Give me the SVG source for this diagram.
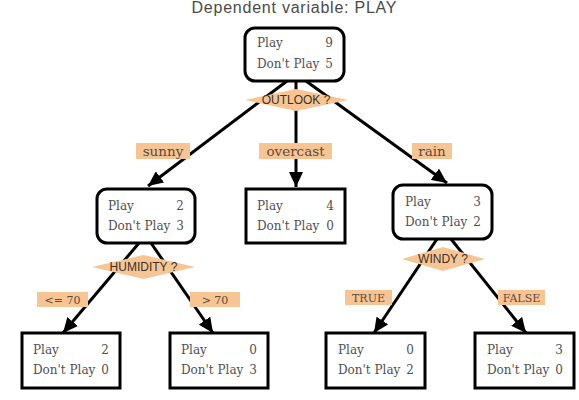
<svg xmlns="http://www.w3.org/2000/svg" width="579" height="400" viewBox="0 0 579 400">
<style>
.box{fill:#fff;stroke:#000;stroke-width:3}
.t{font-family:"DejaVu Serif","Liberation Serif",serif;font-size:12px;fill:#505050}
.n{text-anchor:end}
.lbl{fill:#f7c594}
.lt{font-family:"DejaVu Serif","Liberation Serif",serif;font-size:13.5px;fill:#5b4a3c;text-anchor:middle}
.ls{font-family:"DejaVu Serif","Liberation Serif",serif;font-size:11px;fill:#5b4a3c;text-anchor:middle}
.dia{fill:#f7c594}
.dt{font-family:"Liberation Sans",Arial,sans-serif;font-size:12px;fill:#3a3028;text-anchor:middle}
.edge{stroke:#000;stroke-width:3;fill:none}
.title{font-family:"Liberation Sans",Arial,sans-serif;font-size:16px;fill:#4a4a4a;text-anchor:middle}
</style>
<defs>
<marker id="arr" markerUnits="userSpaceOnUse" markerWidth="16" markerHeight="14" refX="15" refY="7" orient="auto">
<path d="M0,0 L15,7 L0,14 Z" fill="#000"/>
</marker>
</defs>
<rect width="579" height="400" fill="#fff"/>
<text class="title" x="294" y="13" textLength="205" lengthAdjust="spacing">Dependent variable: PLAY</text>

<g id="connectors">
<line class="edge" x1="287" y1="81" x2="148" y2="186" marker-end="url(#arr)"/>
<line class="edge" x1="296" y1="81" x2="296" y2="187" marker-end="url(#arr)"/>
<line class="edge" x1="306" y1="81" x2="447" y2="183" marker-end="url(#arr)"/>
<line class="edge" x1="139" y1="243" x2="63" y2="333" marker-end="url(#arr)"/>
<line class="edge" x1="151" y1="243" x2="213" y2="333" marker-end="url(#arr)"/>
<line class="edge" x1="437" y1="239" x2="374" y2="333" marker-end="url(#arr)"/>
<line class="edge" x1="451" y1="239" x2="526" y2="333" marker-end="url(#arr)"/>
</g>

<g id="lbl-sunny"><rect class="lbl" x="136" y="143" width="54" height="16"/><text class="lt" x="163" y="156">sunny</text></g>
<g id="lbl-overcast"><rect class="lbl" x="259" y="143" width="73" height="16"/><text class="lt" x="295.5" y="156">overcast</text></g>
<g id="lbl-rain"><rect class="lbl" x="412" y="143" width="40" height="16"/><text class="lt" x="432" y="156">rain</text></g>
<g id="lbl-le70"><rect class="lbl" x="37" y="292" width="51" height="15"/><text class="ls" x="62.5" y="304">&lt;= 70</text></g>
<g id="lbl-gt70"><rect class="lbl" x="190" y="292" width="50" height="15"/><text class="ls" x="215" y="304">&gt; 70</text></g>
<g id="lbl-true"><rect class="lbl" x="345" y="290" width="47" height="15"/><text class="ls" x="368.5" y="302">TRUE</text></g>
<g id="lbl-false"><rect class="lbl" x="498" y="290" width="47" height="15"/><text class="ls" x="521.5" y="302">FALSE</text></g>

<g id="outlook"><polygon class="dia" points="245,100 296,89 348,100 296,111"/><text class="dt" x="296" y="104">OUTLOOK ?</text></g>
<g id="humidity"><polygon class="dia" points="92,267 143.5,255 195,267 143.5,279"/><text class="dt" x="143.5" y="271">HUMIDITY ?</text></g>
<g id="windy"><polygon class="dia" points="402,259 443,247 485,259 443,271"/><text class="dt" x="443" y="263">WINDY ?</text></g>

<g id="root"><rect class="box" x="245" y="28" width="99" height="53" rx="10"/><text class="t" x="257" y="47">Play</text><text class="t n" x="333" y="47">9</text><text class="t" x="257" y="68">Don't Play</text><text class="t n" x="333" y="68">5</text></g>
<g id="sunny"><rect class="box" x="97" y="189" width="98" height="54" rx="10"/><text class="t" x="108" y="210">Play</text><text class="t n" x="184" y="210">2</text><text class="t" x="108" y="230">Don't Play</text><text class="t n" x="184" y="230">3</text></g>
<g id="overcast"><rect class="box" x="246" y="189" width="99" height="54"/><text class="t" x="257" y="210">Play</text><text class="t n" x="334" y="210">4</text><text class="t" x="257" y="230">Don't Play</text><text class="t n" x="334" y="230">0</text></g>
<g id="rain"><rect class="box" x="393" y="185" width="99" height="54" rx="10"/><text class="t" x="405" y="206">Play</text><text class="t n" x="481" y="206">3</text><text class="t" x="405" y="226">Don't Play</text><text class="t n" x="481" y="226">2</text></g>
<g id="leaf1"><rect class="box" x="22" y="333" width="98" height="55"/><text class="t" x="33" y="354">Play</text><text class="t n" x="109" y="354">2</text><text class="t" x="33" y="374">Don't Play</text><text class="t n" x="109" y="374">0</text></g>
<g id="leaf2"><rect class="box" x="170" y="333" width="98" height="55"/><text class="t" x="181" y="354">Play</text><text class="t n" x="257" y="354">0</text><text class="t" x="181" y="374">Don't Play</text><text class="t n" x="257" y="374">3</text></g>
<g id="leaf3"><rect class="box" x="326" y="333" width="99" height="55"/><text class="t" x="338" y="354">Play</text><text class="t n" x="414" y="354">0</text><text class="t" x="338" y="374">Don't Play</text><text class="t n" x="414" y="374">2</text></g>
<g id="leaf4"><rect class="box" x="475" y="333" width="99" height="55"/><text class="t" x="487" y="354">Play</text><text class="t n" x="563" y="354">3</text><text class="t" x="487" y="374">Don't Play</text><text class="t n" x="563" y="374">0</text></g>
</svg>
